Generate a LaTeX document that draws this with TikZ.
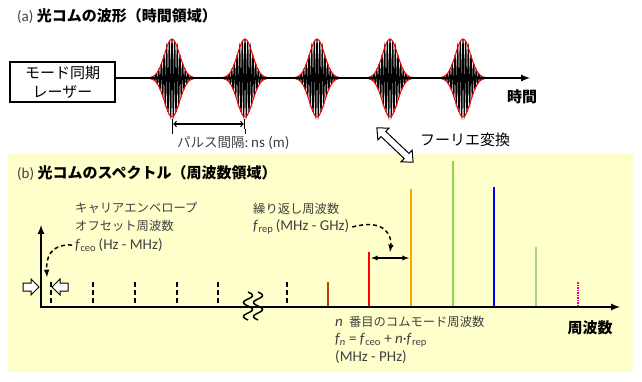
\documentclass[tikz,border=0pt]{standalone}
\usepackage{fontspec}
\setmainfont{Carlito}
\newfontfamily\jp{Noto Sans CJK JP}
\usetikzlibrary{arrows, positioning}

\definecolor{bgyellow}{RGB}{255,255,204}
\definecolor{labelgray}{RGB}{64,64,64}
\definecolor{combbrown}{RGB}{192,64,0}
\definecolor{comborange}{RGB}{255,165,0}
\definecolor{combgreen}{RGB}{146,208,80}
\definecolor{comblight}{RGB}{169,209,142}

\begin{document}
\begin{tikzpicture}[x=1pt,y=1pt]
\tikzstyle{every node}+=[inner sep=0pt]
\tikzstyle{title}=[anchor=west, font=\fontsize{15}{17}\selectfont]
\tikzstyle{bigtext}=[font=\fontsize{15}{18}\selectfont]
\tikzstyle{graylabel}=[anchor=west, text=labelgray, font=\fontsize{12.3}{15}\selectfont]
\tikzstyle{latinlabel}=[anchor=west, text=labelgray, font=\fontsize{15}{17}\selectfont]
\tikzstyle{axis}=[line width=2pt]
\tikzstyle{comb}=[line width=2.5pt]
\tikzstyle{tooth}=[line width=1.2pt, dash pattern=on 5pt off 3pt]
\tikzstyle{curvy}=[line width=1.5pt, dash pattern=on 4pt off 3pt, -latex]
\tikzstyle{hollow}=[draw, fill=white, line width=1pt, line join=miter]
\useasboundingbox (0,0) rectangle (642,-381);
\fill [bgyellow] (8,-153) rectangle (633,-372);
\node [title] (titlea) at (17,-16) {{\color{labelgray}(a)} {\jp\bfseries 光コムの波形（時間領域）}};
\node [draw, line width=1.5pt, minimum width=105pt, minimum height=40pt, align=center, bigtext] (laser) at (62.5,-82) {\jp モード同期\\[1pt]\jp レーザー};
\coordinate (t0) at (0,-78);
\coordinate (tend) at (530,-78);
\foreach \cx in {172,245,317,390,463} {
  \draw [line width=1.1pt] plot [domain=-22:22, samples=360] ({\cx+\x},{-78+39*exp(-((\x)*(\x))/112)*cos(135*\x)});
  \draw [red, line width=1pt] plot [domain=-24:24, samples=80, smooth] ({\cx+\x},{-78+39*exp(-((\x)*(\x))/112)});
  \draw [red, line width=1pt] plot [domain=-24:24, samples=80, smooth] ({\cx+\x},{-78-39*exp(-((\x)*(\x))/112)});
}
\draw [axis, -latex] (laser.east |- t0) -- (tend);
\node [bigtext, font=\fontsize{15}{18}\selectfont\bfseries] (time) at (522,-97) {\jp 時間};
\coordinate (p1) at (172,-124);
\coordinate (p2) at (245,-124);
\draw [|<->|, line width=1.3pt] (p1) -- (p2);
\draw [line width=1pt] (172,-129) -- (172,-134);
\draw [line width=1pt] (245,-129) -- (245,-134);
\node [latinlabel] (gap) at (177,-143) {{\jp\fontsize{13.5}{15}\selectfont パルス間隔}:\,ns (m)};
\begin{scope}[shift={(395,-145)}, rotate=-43.5]
\draw [hollow] (-25,0) -- (-16,8) -- (-16,3.5) -- (16,3.5) -- (16,8) -- (25,0) -- (16,-8) -- (16,-3.5) -- (-16,-3.5) -- (-16,-8) -- cycle;
\end{scope}
\node [bigtext, anchor=west] (fourier) at (420,-140) {\jp フーリエ変換};
\node [title] (titleb) at (17,-173) {{\color{labelgray}(b)} {\jp\bfseries 光コムのスペクトル（周波数領域）}};
\coordinate (origin) at (41,-307);
\coordinate (yend) at (41,-225);
\coordinate (xend) at (620,-307);
\draw [axis, latex-latex] (yend) -- (origin) -- (xend);
\node [bigtext, font=\fontsize{15}{18}\selectfont\bfseries] (freq) at (590,-328) {\jp 周波数};
\foreach \x in {51,93,135,177,218,287}
  \draw [tooth] (\x,-282) -- (\x,-305);
\foreach \sx in {248,258}
  \draw [line width=1.5pt] plot [domain=0:28, samples=60, smooth] ({\sx+4.5*sin(\x*360/14)},{-292-\x});
\draw [comb, combbrown] (328,-306) -- (328,-282);
\draw [comb, red] (369,-306) -- (369,-252);
\draw [comb, comborange] (411,-306) -- (411,-189);
\draw [comb, combgreen] (453,-306) -- (453,-161);
\draw [comb, blue] (494,-306) -- (494,-187);
\draw [comb, comblight] (536,-306) -- (536,-247);
\draw [comb, magenta, dash pattern=on 1.5pt off 1pt] (578,-306) -- (578,-282);
\draw [hollow] (23,-283) -- (31,-283) -- (31,-279) -- (39,-287) -- (31,-295) -- (31,-291) -- (23,-291) -- cycle;
\draw [hollow] (68,-283) -- (60,-283) -- (60,-279) -- (52,-287) -- (60,-295) -- (60,-291) -- (68,-291) -- cycle;
\node [graylabel] (ceo1) at (75,-208) {\jp キャリアエンベロープ};
\node [graylabel] (ceo2) at (75,-226) {\jp オフセット周波数};
\node [latinlabel] (fceo) at (75,-245) {\textit{f}\textsubscript{ceo}\,(Hz - MHz)};
\coordinate (tipceo) at (47,-277);
\draw [curvy] ([xshift=-3pt]fceo.west) .. controls (50,-244) and (46,-258) .. (tipceo);
\node [graylabel] (rep1) at (253,-209) {\jp 繰り返し周波数};
\node [latinlabel] (frep) at (253,-227) {\textit{f}\textsubscript{rep}\,(MHz - GHz)};
\coordinate (tiprep) at (390,-252);
\draw [curvy] ([xshift=3pt]frep.east) .. controls (385,-218) and (392,-236) .. (tiprep);
\coordinate (r1) at (371,-258);
\coordinate (r2) at (409,-258);
\draw [latex-latex, line width=1.3pt] (r1) -- (r2);
\node [graylabel] (nth) at (335,-322) {\textit{\fontsize{15}{17}\selectfont n}\enspace{\jp 番目のコムモード周波数}};
\node [latinlabel] (fn) at (335,-340) {\textit{f\textsubscript{n}} = \textit{f}\textsubscript{ceo} + \textit{n}·\textit{f}\textsubscript{rep}};
\node [latinlabel] (range) at (335,-357) {(MHz - PHz)};
\end{tikzpicture}
\end{document}
